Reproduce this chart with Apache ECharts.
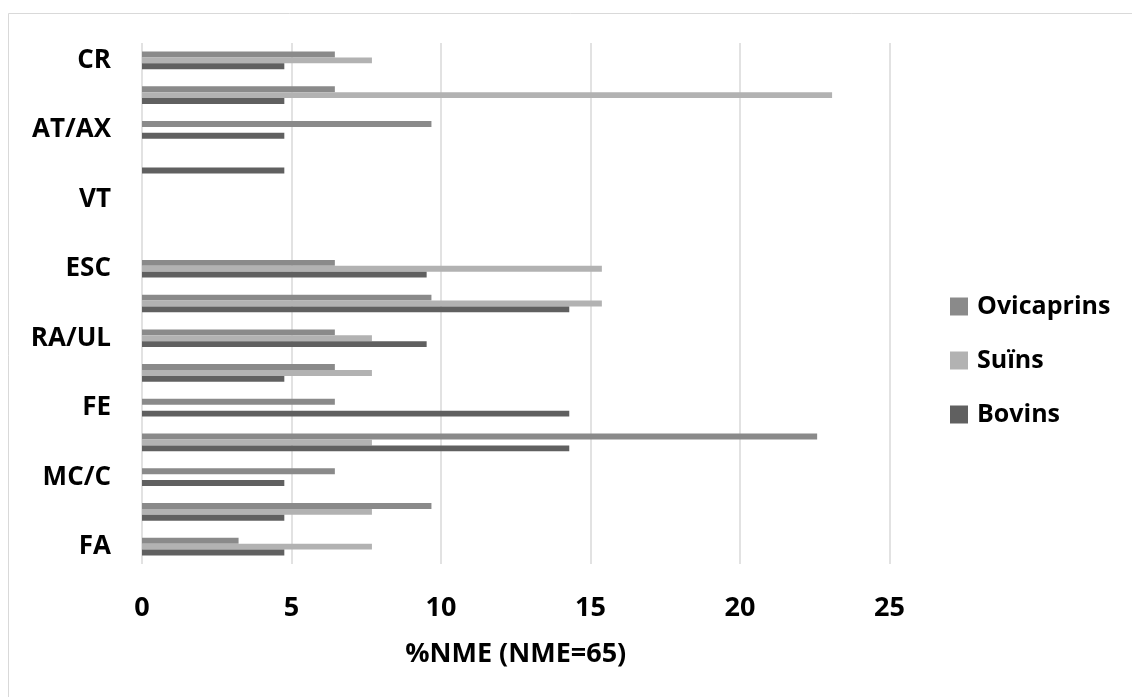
<!DOCTYPE html>
<html>
<head>
<meta charset="utf-8">
<script src="https://cdn.jsdelivr.net/npm/echarts@6/dist/echarts.min.js"></script>
<style>
html,body{margin:0;padding:0;background:#fff;}
#chart{width:1132px;height:697px;}
</style>
</head>
<body>
<div id="chart"></div>
<script>
// Categories from bottom to top (unlabelled categories hidden in the original)
const categories = ['FA', '', 'MC/C', '', 'FE', '', 'RA/UL', '', 'ESC', '', 'VT', '', 'AT/AX', '', 'CR'];
const ovicaprins = [3.23, 9.68, 6.45, 22.58, 6.45, 6.45, 6.45, 9.68, 6.45, 0, 0, 0, 9.68, 6.45, 6.45];
const suins      = [7.69, 7.69, 0, 7.69, 0, 7.69, 7.69, 15.38, 15.38, 0, 0, 0, 0, 23.08, 7.69];
const bovins     = [4.76, 4.76, 4.76, 14.29, 14.29, 4.76, 9.52, 14.29, 9.52, 0, 0, 4.76, 4.76, 4.76, 4.76];
const xTicks = [0, 5, 10, 15, 20, 25];
const xTitle = '%NME (NME=65)';
const seriesNames = ['Ovicaprins', 'Suïns', 'Bovins'];

const FONT = '"Open Sans", "Liberation Sans", sans-serif';
const chart = echarts.init(document.getElementById('chart'), null, {renderer: 'canvas'});
const barW = 5.9;
const mk = (name, data, color) => ({
  name, type: 'bar', data, barWidth: barW, barGap: '0%',
  itemStyle: {color}, emphasis: {disabled: true}, silent: true
});
chart.setOption({
  animation: false,
  backgroundColor: '#ffffff',
  graphic: [{
    type: 'rect', shape: {x: 8.5, y: 13.5, width: 1130, height: 690},
    style: {fill: 'none', stroke: '#d9d9d9', lineWidth: 1}
  }],
  grid: {left: 142, right: 242.5, top: 43, bottom: 133, containLabel: false},
  xAxis: {
    type: 'value', min: xTicks[0], max: xTicks[xTicks.length - 1], interval: 5,
    axisLine: {show: false}, axisTick: {show: false},
    splitLine: {show: true, lineStyle: {color: '#d9d9d9', width: 1.5}},
    axisLabel: {fontFamily: FONT, fontWeight: 'bold', fontSize: 27, color: '#000', margin: 31},
    name: xTitle, nameLocation: 'middle', nameGap: 77,
    nameTextStyle: {fontFamily: FONT, fontWeight: 'bold', fontSize: 27, color: '#000'}
  },
  yAxis: {
    type: 'category', data: categories,
    axisLine: {show: false}, axisTick: {show: false},
    axisLabel: {interval: 1, fontFamily: FONT, fontWeight: 'bold', fontSize: 26, color: '#000', margin: 31}
  },
  legend: {
    orient: 'vertical', left: 945, top: 289, itemGap: 29,
    itemWidth: 18, itemHeight: 18, icon: 'rect',
    data: seriesNames,
    textStyle: {fontFamily: FONT, fontWeight: 'bold', fontSize: 25, color: '#000', padding: [0, 0, 0, 4]}
  },
  series: [
    mk('Ovicaprins', ovicaprins, '#8a8a8a'),
    mk('Suïns', suins, '#b2b2b2'),
    mk('Bovins', bovins, '#606060')
  ]
});
</script>
</body>
</html>
